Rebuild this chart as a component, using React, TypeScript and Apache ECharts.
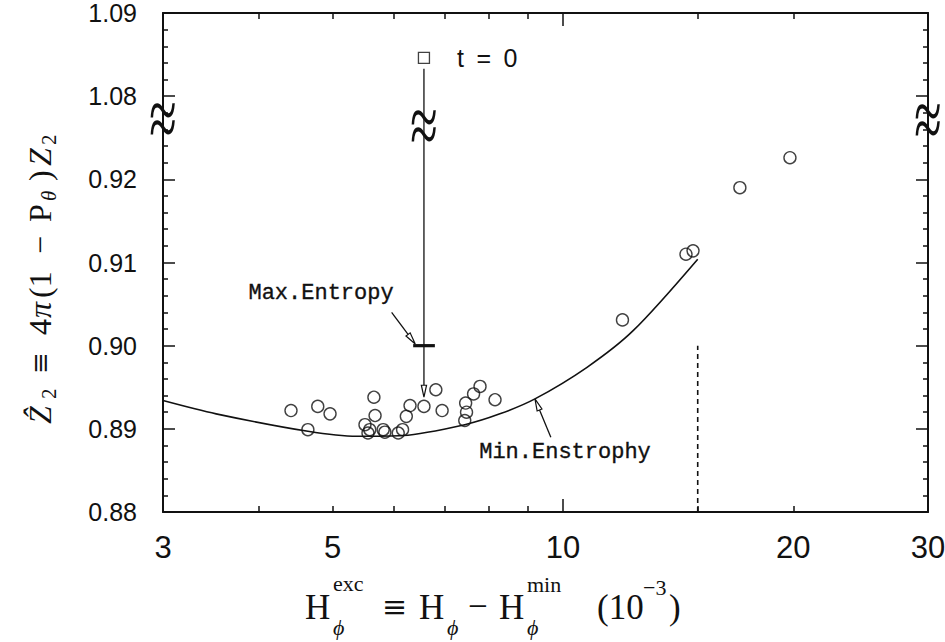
import React, { useEffect, useRef } from 'react';
import * as echarts from 'echarts';

// ---------------- data ----------------
const circleX = [4.41, 4.64, 4.78, 4.96, 5.51, 5.56, 5.59, 5.66, 5.68, 5.82, 5.85, 6.09, 6.17, 6.24, 6.31, 6.58, 6.82, 6.95, 7.44, 7.48, 7.46, 7.64, 7.79, 8.15, 11.96, 14.48, 14.79, 17.03, 19.8];
const circleY = [0.8922, 0.8899, 0.8927, 0.8918, 0.8905, 0.8895, 0.8899, 0.8938, 0.8916, 0.8899, 0.8896, 0.8895, 0.8899, 0.8915, 0.8928, 0.8927, 0.8947, 0.8922, 0.891, 0.892, 0.8931, 0.8942, 0.8951, 0.8935, 0.9031, 0.911, 0.9114, 0.919, 0.9226];

const curveX = [3.0, 3.52, 4.64, 5.38, 6.18, 7.44, 8.27, 9.19, 10.75, 12.35, 15.0];
const curveY = [0.8934, 0.8918, 0.8897, 0.8891, 0.8892, 0.8905, 0.8918, 0.8936, 0.8974, 0.9018, 0.9104];

const t0X = [6.58];
const t0Y = [1.0846];

const cutoffX = [15, 15];
const cutoffY = [0.88, 0.9];

const maxEntX = [6.37, 6.8];
const maxEntY = [0.9, 0.9];

const arrowFromX = [6.58, 5.97, 9.64];
const arrowFromY = [1.0833, 0.904, 0.889];
const arrowToX = [6.58, 6.41, 9.19];
const arrowToY = [0.8938, 0.9002, 0.8936];

const noteText = ['t\u2002=\u20020', 'Max.Entropy', 'Min.Enstrophy'];
const noteX = [7.27, 3.88, 7.77];
const noteY = [1.0846, 0.9063, 0.8872];

// break marks, in axis units (the gap between 0.92 and 1.08)
const breakX = [3, 30, 6.58];
const breakAxisY = [0.9273, 0.9272, 0.9265];

const xTickValues = [4, 5, 6, 7, 8, 9, 15, 20];
const xMajorTickValues = [10];
const xLabelValues = [3, 5, 10, 20, 30];
const yTickLabels = ['0.88', '0.89', '0.90', '0.91', '0.92', '1.08', '1.09'];

// ---------------- helpers ----------------
const BLACK = '#111';
const SHIFT = 0.15; // axis break: 1.08 is drawn where 0.93 would be
const toAxis = (v: number) => (v >= 1 ? v - SHIFT : v);
const lg = (v: number) => Math.log10(v);
const X_MIN = 3;
const X_MAX = 30;
const SERIF = '"Liberation Serif", "DejaVu Serif", "Times New Roman", serif';
const SANS = '"Liberation Sans", Arial, Helvetica, sans-serif';
const MONO = '"Liberation Mono", "Courier New", monospace';

const tickLine = { color: BLACK, width: 1.5 };

function xDecorAxis(position: string, length: number, values: number[], withLine: boolean, withLabels: boolean) {
  return {
    type: 'value',
    gridIndex: 0,
    position,
    min: lg(X_MIN),
    max: lg(X_MAX),
    axisLine: { show: withLine, onZero: false, lineStyle: { color: BLACK, width: 2 } },
    axisTick: { show: true, inside: true, length, customValues: values.map(lg), lineStyle: tickLine },
    axisLabel: withLabels
      ? {
          show: true,
          customValues: xLabelValues.map(lg),
          formatter: (v: number) => String(Math.round(Math.pow(10, v))),
          margin: 20,
          color: BLACK,
          fontSize: 31,
          fontFamily: SANS,
        }
      : { show: false },
    splitLine: { show: false },
    minorTick: { show: false },
  };
}

function yAxisDef(position: string, withLabels: boolean) {
  return {
    type: 'value',
    position,
    min: 0.88,
    max: 0.94,
    interval: 0.01,
    axisLine: { show: true, onZero: false, lineStyle: { color: BLACK, width: 2 } },
    axisTick: { show: true, inside: true, length: 12, lineStyle: tickLine },
    minorTick: { show: true, splitNumber: 5, length: 5, lineStyle: tickLine },
    axisLabel: withLabels
      ? {
          show: true,
          margin: 26,
          color: BLACK,
          fontSize: 25,
          fontFamily: SANS,
          formatter: (v: number) => yTickLabels[Math.round((v - 0.88) / 0.01)] ?? '',
        }
      : { show: false },
    splitLine: { show: false },
  };
}

function gText(text: string, x: number, y: number, size: number, opts: { italic?: boolean; bold?: boolean; rot?: number; family?: string } = {}) {
  return {
    type: 'text',
    x,
    y,
    rotation: opts.rot ?? 0,
    silent: true,
    style: {
      text,
      font: `${opts.italic ? 'italic ' : ''}${opts.bold ? 'bold ' : ''}${size}px ${opts.family ?? SERIF}`,
      fill: BLACK,
      textAlign: 'left',
      textVerticalAlign: 'middle',
      align: 'left',
      verticalAlign: 'middle',
    },
  };
}

const R = Math.PI / 2;
const DJ = '"DejaVu Serif", serif';
const titleGraphics = [
  // x-axis title
  gText('H', 305, 607, 35),
  gText('exc', 333, 583, 22),
  gText('ϕ', 333, 627, 22, { italic: true }),
  gText('≡', 382, 606, 30, { family: DJ }),
  gText('H', 419, 607, 35),
  gText('ϕ', 447, 627, 22, { italic: true }),
  gText('−', 468, 606, 35),
  gText('H', 499, 607, 35),
  gText('min', 527, 584, 22),
  gText('ϕ', 527, 627, 22, { italic: true }),
  gText('(10', 597, 607, 35),
  gText('−3', 643, 587, 22),
  gText(')', 669, 607, 35),
  // y-axis title (reads bottom to top)
  gText('Ẑ', 40, 424, 32, { italic: true, rot: R }),
  gText('2', 49, 399, 21, { rot: R }),
  gText('≡', 40, 374, 26, { rot: R, family: DJ }),
  gText('4', 40, 335, 32, { rot: R }),
  gText('π', 40, 318, 32, { italic: true, rot: R }),
  gText('(1', 40, 298, 32, { rot: R }),
  gText('−', 40, 254, 32, { rot: R }),
  gText('P', 40, 222, 32, { rot: R }),
  gText('θ', 49, 201, 21, { italic: true, rot: R }),
  gText(')', 40, 181, 32, { rot: R }),
  gText('Z', 40, 166, 32, { italic: true, rot: R }),
  gText('2', 49, 145, 21, { rot: R }),
];

const circleData = circleX.map((x, i) => [x, circleY[i]]);
const curveData = curveX.map((x, i) => [x, curveY[i]]);
const t0Data = t0X.map((x, i) => [x, toAxis(t0Y[i])]);
const cutoffData = cutoffX.map((x, i) => [x, cutoffY[i]]);
const maxEntData = maxEntX.map((x, i) => [x, maxEntY[i]]);
const arrowData = arrowFromX.map((x, i) => [x, toAxis(arrowFromY[i]), arrowToX[i], toAxis(arrowToY[i])]);
const noteData = noteX.map((x, i) => [x, toAxis(noteY[i])]);
const breakData = breakX.map((x, i) => [x, breakAxisY[i]]);

const noteFonts = [`25px ${SANS}`, `22px ${MONO}`, `22px ${MONO}`];
const noteStroke = [0, 0.35, 0.35];

const option: any = {
  animation: false,
  backgroundColor: '#fff',
  grid: { left: 163, right: 17, top: 13, bottom: 130, containLabel: false, outerBoundsMode: 'none' },
  xAxis: [
    { type: 'log', logBase: 10, min: X_MIN, max: X_MAX, show: false, gridIndex: 0 },
    xDecorAxis('bottom', 6, xTickValues, true, true),
    xDecorAxis('bottom', 13, xMajorTickValues, false, false),
    xDecorAxis('top', 6, xTickValues, true, false),
    xDecorAxis('top', 13, xMajorTickValues, false, false),
  ],
  yAxis: [yAxisDef('left', true), yAxisDef('right', false)],
  graphic: titleGraphics,
  series: [
    {
      type: 'line',
      data: curveData,
      smooth: 0.3,
      symbol: 'none',
      showSymbol: false,
      lineStyle: { color: BLACK, width: 1.6 },
      silent: true,
    },
    {
      type: 'line',
      data: cutoffData,
      symbol: 'none',
      lineStyle: { color: BLACK, width: 1.6, type: [5, 4] },
      silent: true,
    },
    {
      type: 'line',
      data: maxEntData,
      symbol: 'none',
      lineStyle: { color: BLACK, width: 3.2 },
      silent: true,
    },
    {
      type: 'custom',
      clip: false,
      silent: true,
      data: arrowData,
      encode: { x: [0, 2], y: [1, 3] },
      renderItem: (params: any, api: any) => {
        const p1 = api.coord([api.value(0), api.value(1)]);
        const p2 = api.coord([api.value(2), api.value(3)]);
        const ang = Math.atan2(p2[1] - p1[1], p2[0] - p1[0]);
        const L = 12;
        const W = 2.6;
        const bx = p2[0] - L * Math.cos(ang);
        const by = p2[1] - L * Math.sin(ang);
        const nx = -Math.sin(ang) * W;
        const ny = Math.cos(ang) * W;
        return {
          type: 'group',
          children: [
            { type: 'line', shape: { x1: p1[0], y1: p1[1], x2: bx, y2: by }, style: { stroke: BLACK, lineWidth: 1.3 } },
            {
              type: 'polygon',
              shape: { points: [[p2[0], p2[1]], [bx + nx, by + ny], [bx - nx, by - ny]] },
              style: { fill: '#fff', stroke: BLACK, lineWidth: 1.2 },
            },
          ],
        };
      },
    },
    {
      type: 'scatter',
      data: circleData,
      symbol: 'circle',
      symbolSize: 12,
      itemStyle: { color: 'rgba(0,0,0,0)', borderColor: BLACK, borderWidth: 1.4 },
      silent: true,
    },
    {
      type: 'scatter',
      data: t0Data,
      symbol: 'rect',
      symbolSize: 11,
      itemStyle: { color: 'rgba(0,0,0,0)', borderColor: BLACK, borderWidth: 1.3 },
      silent: true,
    },
    {
      type: 'custom',
      clip: false,
      silent: true,
      data: noteData,
      renderItem: (params: any, api: any) => {
        const i = params.dataIndex;
        const p = api.coord([api.value(0), api.value(1)]);
        return {
          type: 'text',
          x: p[0],
          y: p[1],
          style: {
            text: noteText[i],
            font: noteFonts[i],
            fill: BLACK,
            stroke: noteStroke[i] ? BLACK : undefined,
            lineWidth: noteStroke[i],
            textAlign: 'left',
            textVerticalAlign: 'middle',
            align: 'left',
            verticalAlign: 'middle',
          },
        };
      },
    },
    {
      type: 'custom',
      clip: false,
      silent: true,
      data: breakData,
      renderItem: (params: any, api: any) => {
        const p = api.coord([api.value(0), api.value(1)]);
        return {
          type: 'text',
          x: p[0],
          y: p[1],
          scaleY: 1.7,
          style: {
            text: '≈',
            font: `50px ${SERIF}`,
            fill: BLACK,
            textAlign: 'center',
            textVerticalAlign: 'middle',
            align: 'center',
            verticalAlign: 'middle',
          },
        };
      },
    },
  ],
};

export default function App() {
  const ref = useRef<HTMLDivElement>(null);
  useEffect(() => {
    if (!ref.current) return;
    const chart = echarts.init(ref.current, null, { renderer: 'svg' });
    chart.setOption(option);
    return () => chart.dispose();
  }, []);
  return (
    <div
      ref={ref}
      style={{ position: 'fixed', left: 0, top: 0, width: 945, height: 642, background: '#fff' }}
    />
  );
}
